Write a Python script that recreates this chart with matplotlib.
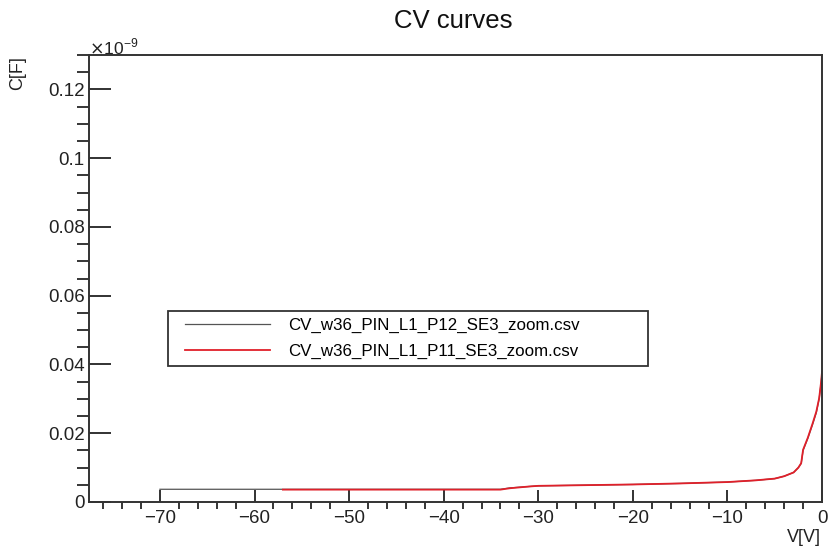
import numpy as np
import matplotlib.pyplot as plt
from matplotlib.patches import Rectangle
from matplotlib.ticker import MultipleLocator, FuncFormatter

plt.rcParams['font.family'] = ['Liberation Sans', 'DejaVu Sans']

# values, capacitance in units of 1e-9 F
v_p12 = [-70, -60, -50, -40, -34, -33, -31, -30, -25, -20, -15, -10, -7, -5, -4, -3, -2.5, -2.2, -2.0, -1.5, -1.0, -0.6, -0.3, -0.1, 0]
c_p12 = [0.0037, 0.0037, 0.0037, 0.0037, 0.0037, 0.0041, 0.0045, 0.0047, 0.0049, 0.0051, 0.0054, 0.0058, 0.0063, 0.0068, 0.0075, 0.0086, 0.0100, 0.0112, 0.0150, 0.0185, 0.0225, 0.0260, 0.0300, 0.0345, 0.0375]
v_p11 = [-57, -50, -40, -34, -33, -31, -30, -25, -20, -15, -10, -7, -5, -4, -3, -2.5, -2.2, -2.0, -1.5, -1.0, -0.6, -0.3, -0.1, 0]
c_p11 = [0.0036, 0.0036, 0.0036, 0.0036, 0.0040, 0.0045, 0.0047, 0.0049, 0.0051, 0.0054, 0.0058, 0.0063, 0.0068, 0.0075, 0.0086, 0.0100, 0.0113, 0.0152, 0.0187, 0.0228, 0.0263, 0.0302, 0.0348, 0.0378]
labels = ['CV_w36_PIN_L1_P12_SE3_zoom.csv', 'CV_w36_PIN_L1_P11_SE3_zoom.csv']


def fmt_num(x):
    s = '%g' % round(x, 4)
    return s.replace('-', '\u2212')


fig = plt.figure(figsize=(8.33, 5.57), dpi=100)
ax = fig.add_axes([89 / 833, 55 / 557, 733 / 833, 447 / 557])

ax.plot(v_p12, np.array(c_p12) * 1e-9, color='#555555', lw=0.9, label=labels[0])
ax.plot(v_p11, np.array(c_p11) * 1e-9, color='#e0202a', lw=1.3, label=labels[1])

ax.set_xlim(-77.5, 0)
ax.set_ylim(0, 0.13e-9)

ax.xaxis.set_major_locator(MultipleLocator(10))
ax.xaxis.set_minor_locator(MultipleLocator(2))
ax.yaxis.set_major_locator(MultipleLocator(0.02e-9))
ax.yaxis.set_minor_locator(MultipleLocator(0.005e-9))
ax.yaxis.set_major_formatter(FuncFormatter(lambda y, p: fmt_num(y * 1e9)))
ax.xaxis.set_major_formatter(FuncFormatter(lambda x, p: fmt_num(x)))

ax.tick_params(axis='both', direction='in', labelsize=13.5, colors='#222222', width=1.3)
ax.tick_params(axis='x', which='major', length=9, pad=6)
ax.tick_params(axis='x', which='minor', length=5, width=1.1)
ax.tick_params(axis='y', which='major', length=16, pad=3)
ax.tick_params(axis='y', which='minor', length=8.5, width=1.1)
for s in ax.spines.values():
    s.set_color('#333333')
    s.set_linewidth(1.4)

fig.text(453 / 833, 1 - 21 / 557, 'CV curves', ha='center', va='center', fontsize=18.5, color='#111111')
fig.text(18 / 833, 1 - 73 / 557, 'C[F]', rotation=90, ha='center', va='center', fontsize=13, color='#222222')
fig.text(821 / 833, 1 - 537 / 557, 'V[V]', ha='right', va='center', fontsize=13, color='#222222')
fig.text(89 / 833, 1 - 54 / 557, r'$\times$10$^{\mathregular{-9}}$', ha='left', va='baseline',
         fontsize=12.5, color='#222222')

# legend box drawn by hand (ROOT style: wide box, entries indented)
ax.add_patch(Rectangle((0.108, 0.304), 0.655, 0.123, transform=ax.transAxes,
                       facecolor='white', edgecolor='#333333', lw=1.3, zorder=4))
leg = ax.legend(loc='center left', bbox_to_anchor=(0.131, 0.366), fontsize=12.2,
                frameon=False, handlelength=5.0, handletextpad=1.1,
                borderpad=0, labelspacing=0.62, borderaxespad=0)
leg.set_zorder(5)

fig.savefig('out.png', dpi=100)
